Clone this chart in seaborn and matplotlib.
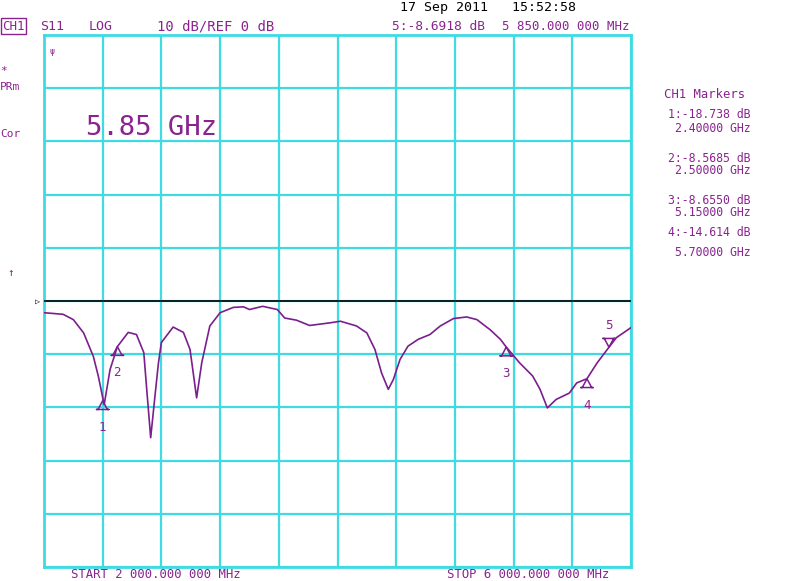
import numpy as np
import matplotlib
matplotlib.use("Agg")
import matplotlib.pyplot as plt
from matplotlib.path import Path
import seaborn as sns

# ---------------------------------------------------------------------------
# DATA
# ---------------------------------------------------------------------------
freq_ghz = [2.00, 2.13, 2.20, 2.27, 2.336, 2.37, 2.41, 2.45, 2.50, 2.574,
            2.63, 2.68, 2.70, 2.727, 2.756, 2.78, 2.80, 2.88, 2.95, 2.995,
            3.04, 3.075, 3.13, 3.20, 3.29, 3.36, 3.40, 3.49, 3.59, 3.64,
            3.72, 3.81, 3.95, 4.02, 4.13, 4.20, 4.255, 4.30, 4.346, 4.38,
            4.426, 4.48, 4.55, 4.63, 4.70, 4.79, 4.88, 4.95, 5.04, 5.11,
            5.15, 5.24, 5.33, 5.38, 5.43, 5.49, 5.58, 5.63, 5.70, 5.77,
            5.85, 5.90, 6.00]
s11_db = [-2.2, -2.5, -3.5, -6.0, -10.4, -14.1, -19.5, -12.9, -8.57, -5.9,
          -6.3, -9.7, -16.6, -25.7, -17.9, -11.6, -7.8, -4.9, -5.9, -9.1,
          -18.2, -11.6, -4.7, -2.2, -1.2, -1.1, -1.6, -1.0, -1.6, -3.2,
          -3.6, -4.6, -4.1, -3.8, -4.7, -6.0, -9.1, -13.5, -16.6, -14.8,
          -11.0, -8.5, -7.2, -6.3, -4.7, -3.3, -3.0, -3.5, -5.4, -7.2,
          -8.66, -11.6, -14.1, -16.6, -20.1, -18.5, -17.3, -15.4, -14.6, -11.6,
          -8.69, -6.9, -5.0]

marker_ids = ["1", "2", "3", "4", "5"]
marker_freq = [2.40, 2.50, 5.15, 5.70, 5.85]
marker_db = [-18.738, -8.5685, -8.6550, -14.614, -8.6918]

panel_lines = ["1:-18.738 dB", "2.40000 GHz", "2:-8.5685 dB", "2.50000 GHz",
               "3:-8.6550 dB", "5.15000 GHz", "4:-14.614 dB", "5.70000 GHz"]
panel_y = [115, 128, 158, 170, 200, 212, 233, 253]

START_GHZ, STOP_GHZ = 2.0, 6.0
REF_DB, SCALE_DB = 0, 10

# ---------------------------------------------------------------------------
# STYLE
# ---------------------------------------------------------------------------
sns.set_theme(style="white")
plt.rcParams["font.family"] = ["DejaVu Sans Mono"]

GRID = "#3fdbe3"
TRACE = "#7a1f8c"
TXT = "#8a238f"

W, H = 800, 581
fig = plt.figure(figsize=(8, 5.81), dpi=100, facecolor="white")
ax = fig.add_axes([44 / W, 1 - 567 / H, 587 / W, 532 / H])


def ft(x, y, s, **kw):
    kw.setdefault("color", TXT)
    kw.setdefault("fontsize", 9)
    kw.setdefault("va", "center")
    fig.text(x / W, 1 - y / H, s, **kw)


# grid
ax.set_xlim(START_GHZ, STOP_GHZ)
ax.set_ylim(REF_DB - 5 * SCALE_DB, REF_DB + 5 * SCALE_DB)
ax.set_xticks(np.linspace(START_GHZ, STOP_GHZ, 11))
ax.set_yticks(np.linspace(-50, 50, 11))
ax.grid(True, color=GRID, linewidth=1.6)
ax.tick_params(length=0, labelbottom=False, labelleft=False)
for sp in ax.spines.values():
    sp.set_color(GRID)
    sp.set_linewidth(2)
ax.set_facecolor("white")

# reference line
ax.axhline(REF_DB, color="black", linewidth=1.2, zorder=3)

# trace
sns.lineplot(x=freq_ghz, y=s11_db, sort=False, estimator=None, color=TRACE,
             linewidth=1.2, ax=ax, zorder=4)

# marker symbols: tip sits on the trace
up_tri = Path([(0, 0), (-0.45, -0.85), (-0.6, -0.85), (0.6, -0.85),
               (0.45, -0.85), (0, 0)])
dn_tri = Path([(0, 0), (-0.45, 0.85), (-0.6, 0.85), (0.6, 0.85),
               (0.45, 0.85), (0, 0)])
for mid, mf, md in zip(marker_ids, marker_freq, marker_db):
    active = mid == "5"
    ax.scatter([mf], [md], marker=dn_tri if active else up_tri, s=160,
               facecolors="none", edgecolors=TRACE, linewidths=1.1, zorder=5)
    ax.annotate(mid, (mf, md), xytext=(0, 16 if active else -19),
                textcoords="offset points", ha="center", va="center",
                color=TXT, fontsize=9)

# ---------------------------------------------------------------------------
# SCREEN ANNOTATIONS
# ---------------------------------------------------------------------------
ft(400, 8, "17 Sep 2011   15:52:58", color="black", fontsize=9.5)
ft(2, 26, "CH1", bbox=dict(boxstyle="square,pad=0.1", fc="none", ec=TXT, lw=1))
ft(40, 26, "S11", fontsize=9.5)
ft(89, 26, "LOG", fontsize=9.5)
ft(157, 26, "10 dB/REF 0 dB", fontsize=10)
ft(392, 26, "5:-8.6918 dB", fontsize=9.3)
ft(502, 26, "5 850.000 000 MHz", fontsize=8.9)

ft(0, 71, "*", fontsize=8)
ft(0, 87, "PRm", fontsize=8)
ft(0, 134, "Cor", fontsize=8)
ft(7, 273, "\u2191", fontsize=8)
ft(49, 51, "\u03c8", fontsize=6)
ft(35, 301, "\u25b7", color="black", fontsize=6)

ft(86, 128, "5.85 GHz", fontsize=19.5)

ft(664, 94, "CH1 Markers", fontsize=8.8)
for line, yy in zip(panel_lines, panel_y):
    ft(751, yy, line, ha="right", fontsize=8.3)

ft(71, 575, "START 2 000.000 000 MHz", fontsize=8.8)
ft(447, 575, "STOP 6 000.000 000 MHz", fontsize=8.8)

fig.savefig("out.png", dpi=100, facecolor="white")
